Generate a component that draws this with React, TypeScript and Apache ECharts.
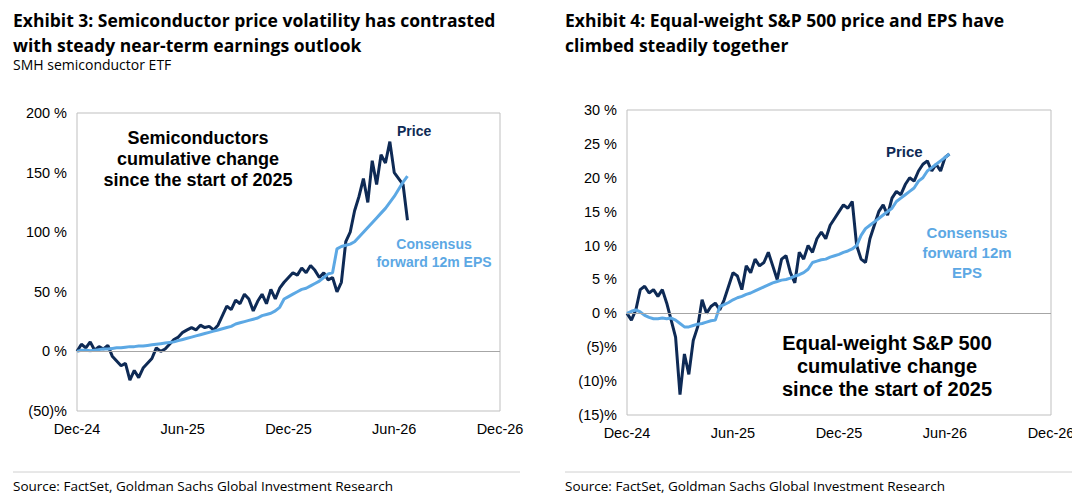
import React, { useEffect, useRef } from 'react';
import * as echarts from 'echarts';

// x positions are months since Dec-24, one value per week-ish step (0.25 month)
const xTicks = ['Dec-24', 'Jun-25', 'Dec-25', 'Jun-26', 'Dec-26'];

const semiPrice = [0, 6, 3, 8, 1, 4, 2, 5, -4, -8, -12, -10, -24, -16, -22, -14, -10, -6, 3, 0, 2, 6, 10, 12, 16, 18, 20, 18, 22, 20, 21, 18, 22, 30, 38, 35, 43, 40, 48, 44, 34, 42, 48, 40, 52, 44, 53, 58, 62, 66, 64, 70, 66, 72, 68, 62, 66, 60, 62, 50, 58, 92, 100, 118, 130, 145, 125, 160, 140, 165, 158, 176, 150, 145, 140, 110];
const semiEps = [0, 1, 1, 0.5, 1, 1.5, 2, 2, 2.5, 3, 3, 3.5, 4, 4, 4.5, 4.5, 5, 5.5, 6, 6.5, 7, 7.5, 8, 9, 10, 11, 12, 13, 14, 15, 16, 17, 18, 19, 20, 21, 23, 24, 25, 26, 27, 28, 30, 31, 32, 34, 37, 44, 46, 48, 50, 52, 53, 55, 57, 59, 62, 65, 66, 86, 88, 89, 90, 92, 96, 100, 104, 108, 112, 116, 120, 125, 130, 136, 142, 147];

const spxPrice = [0, -1, 0.5, 3.5, 4, 3, 3.5, 2.5, 3.5, 1.5, -1, -3.5, -12, -6, -9, -4, -2, 2, 0, 1, 1.5, 0.5, 2, 4, 6, 5.5, 3.5, 7, 6, 8, 7, 7.5, 9, 7, 5, 8, 8.5, 6, 4.5, 9, 8, 10, 9, 11, 12, 11, 13, 14, 15, 16, 15.5, 16.5, 10, 8, 7.5, 11, 13, 15, 16, 14.5, 17, 18, 17.5, 19, 20, 19.5, 21, 22, 22.5, 21, 22, 21, 23, 23.5];
const spxEps = [0, 0.3, 0.5, 0.2, -0.3, -0.6, -0.8, -0.8, -0.7, -0.8, -0.7, -1, -1.5, -2, -2, -1.8, -1.6, -1.5, -1.3, -1.1, -1, 1, 1.3, 1.6, 2, 2.3, 2.5, 2.8, 3, 3.3, 3.6, 3.9, 4.2, 4.5, 4.7, 4.9, 5, 5.2, 5.5, 5.7, 6, 6.5, 7.5, 7.7, 7.9, 8, 8.3, 8.5, 8.7, 9, 9.2, 9.5, 10, 11.5, 12.5, 13, 13.5, 14, 14.5, 15, 15.5, 16.5, 17, 17.5, 18, 18.5, 19.5, 20, 21, 21.5, 22, 22.5, 23, 23.5];

const DARK = '#0e2a55';
const LIGHT = '#5ca8e4';
const FONT = 'Liberation Sans';
const HEAD = 'Open Sans';

const pts = (arr: number[]) => arr.map((v, i) => [i * 0.25, v]);
const pctFmt = (v: number) => (v < 0 ? `(${-v})%` : `${v} %`);

const App = () => {
  const ref = useRef<HTMLDivElement>(null);

  useEffect(() => {
    const chart = echarts.init(ref.current, null, { renderer: 'svg' });
    const xAxisBase = (gi: number) => ({
      type: 'value', gridIndex: gi, min: 0, max: 24, interval: 6,
      axisLine: { show: false }, axisTick: { show: false }, splitLine: { show: false },
      axisLabel: { formatter: (v: number) => xTicks[v / 6], color: '#000', fontSize: 14.5, fontFamily: FONT, margin: 10 },
    });
    const yAxisBase = (gi: number, min: number, max: number, interval: number) => ({
      type: 'value', gridIndex: gi, min, max, interval,
      axisLine: { show: false }, axisTick: { show: false }, splitLine: { show: false },
      axisLabel: { formatter: pctFmt, color: '#000', fontSize: 14.5, fontFamily: FONT, margin: 10 },
    });
    const line = (data: number[], color: string, gi: number, zero: boolean) => ({
      type: 'line', xAxisIndex: gi, yAxisIndex: gi, data: pts(data), showSymbol: false,
      lineStyle: { color, width: 3 }, z: color === DARK ? 3 : 4,
      markLine: zero ? { silent: true, symbol: 'none', label: { show: false }, lineStyle: { color: '#a6a6a6', width: 1, type: 'solid' }, data: [{ yAxis: 0 }] } : undefined,
    });
    const txt = (x: number, y: number, text: string, o: any = {}) => ({
      type: 'text', x, y, style: { text, fontFamily: FONT, fill: '#000', fontSize: 15, ...o },
    });
    chart.setOption({
      animation: false,
      grid: [
        { left: 77, right: 580, top: 113, bottom: 92, show: true, borderColor: '#bfbfbf', borderWidth: 1 },
        { left: 627, right: 29, top: 110, bottom: 88, show: true, borderColor: '#bfbfbf', borderWidth: 1 },
      ],
      xAxis: [xAxisBase(0), xAxisBase(1)],
      yAxis: [yAxisBase(0, -50, 200, 50), yAxisBase(1, -15, 30, 5)],
      series: [
        line(semiPrice, DARK, 0, true), line(semiEps, LIGHT, 0, false),
        line(spxPrice, DARK, 1, true), line(spxEps, LIGHT, 1, false),
      ],
      graphic: [
        txt(13, 7, 'Exhibit 3: Semiconductor price volatility has contrasted\nwith steady near-term earnings outlook', { fontFamily: HEAD, fontWeight: 'bold', fontSize: 17.5, lineHeight: 25 }),
        txt(13, 57, 'SMH semiconductor ETF', { fontFamily: HEAD, fontSize: 14 }),
        txt(565, 7, 'Exhibit 4: Equal-weight S&P 500 price and EPS have\nclimbed steadily together', { fontFamily: HEAD, fontWeight: 'bold', fontSize: 17.5, lineHeight: 25 }),
        txt(198, 127, 'Semiconductors\ncumulative change\nsince the start of 2025', { fontWeight: 'bold', fontSize: 18, lineHeight: 21, align: 'center' }),
        txt(397, 124, 'Price', { fontWeight: 'bold', fontSize: 14, fill: DARK }),
        txt(434, 235, 'Consensus\nforward 12m EPS', { fontWeight: 'bold', fontSize: 14, fill: LIGHT, lineHeight: 18, align: 'center' }),
        txt(887, 331, 'Equal-weight S&P 500\ncumulative change\nsince the start of 2025', { fontWeight: 'bold', fontSize: 20, lineHeight: 23, align: 'center' }),
        txt(886, 144, 'Price', { fontWeight: 'bold', fontSize: 15, fill: DARK }),
        txt(967, 222, 'Consensus\nforward 12m\nEPS', { fontWeight: 'bold', fontSize: 15, fill: LIGHT, lineHeight: 20, align: 'center' }),
        { type: 'line', shape: { x1: 13, y1: 472, x2: 520, y2: 472 }, style: { stroke: '#d0d0d0', lineWidth: 1 } },
        { type: 'line', shape: { x1: 565, y1: 472, x2: 1072, y2: 472 }, style: { stroke: '#d0d0d0', lineWidth: 1 } },
        txt(13, 479, 'Source: FactSet, Goldman Sachs Global Investment Research', { fontFamily: HEAD, fontSize: 13.5 }),
        txt(565, 479, 'Source: FactSet, Goldman Sachs Global Investment Research', { fontFamily: HEAD, fontSize: 13.5 }),
      ],
    });
    return () => chart.dispose();
  }, []);

  return <div ref={ref} style={{ width: 1080, height: 503, margin: -8, background: '#fff' }} />;
};

export default App;
